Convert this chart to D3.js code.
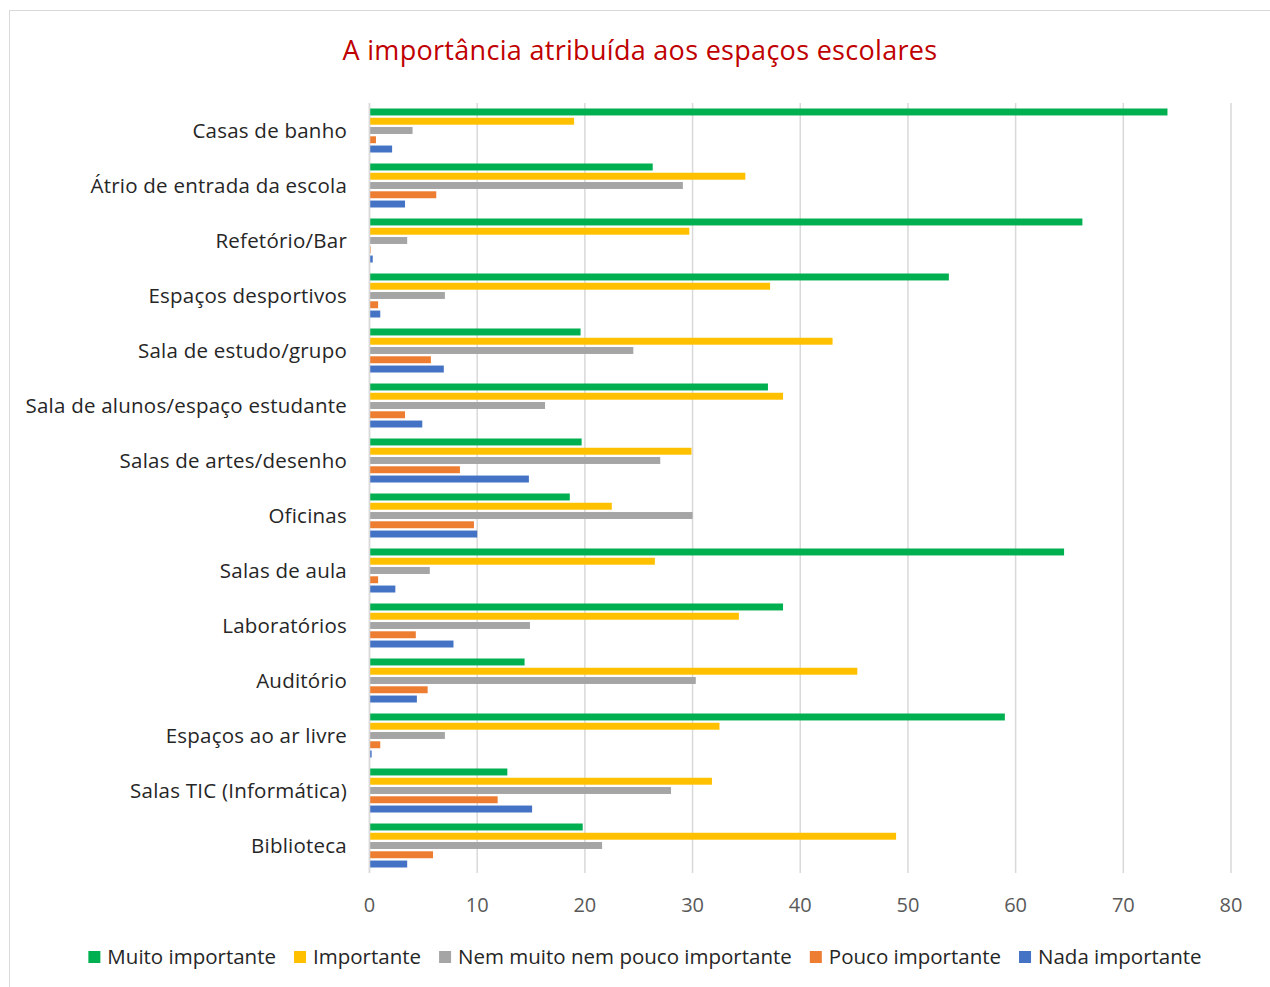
<!DOCTYPE html>
<html><head><meta charset="utf-8">
<script src="https://cdn.jsdelivr.net/npm/d3@7"></script>
<style>body{margin:0;background:#fff;} svg{display:block;}</style>
</head><body>
<svg id="chart" width="1270" height="987"></svg>
<script>
const categories = ["Casas de banho","Átrio de entrada da escola","Refetório/Bar","Espaços desportivos","Sala de estudo/grupo","Sala de alunos/espaço estudante","Salas de artes/desenho","Oficinas","Salas de aula","Laboratórios","Auditório","Espaços ao ar livre","Salas TIC (Informática)","Biblioteca"];
const seriesNames = ["Muito importante","Importante","Nem muito nem pouco importante","Pouco importante","Nada importante"];
const muitoImportante = [74.1,26.3,66.2,53.8,19.6,37.0,19.7,18.6,64.5,38.4,14.4,59.0,12.8,19.8];
const importante      = [19.0,34.9,29.7,37.2,43.0,38.4,29.9,22.5,26.5,34.3,45.3,32.5,31.8,48.9];
const nemMuitoNemPouco= [4.0,29.1,3.5,7.0,24.5,16.3,27.0,30.0,5.6,14.9,30.3,7.0,28.0,21.6];
const poucoImportante = [0.6,6.2,0.1,0.8,5.7,3.3,8.4,9.7,0.8,4.3,5.4,1.0,11.9,5.9];
const nadaImportante  = [2.1,3.3,0.3,1.0,6.9,4.9,14.8,10.0,2.4,7.8,4.4,0.2,15.1,3.5];
const xTicks = [0,10,20,30,40,50,60,70,80];
const colors = ["#00B050","#FFC000","#A5A5A5","#ED7D31","#4472C4"];
const title = "A importância atribuída aos espaços escolares";

const seriesValues = [muitoImportante,importante,nemMuitoNemPouco,poucoImportante,nadaImportante];
const svg = d3.select("#chart");
const font = "'Open Sans', 'Noto Sans', sans-serif";

// border
svg.append("rect").attr("x",9.5).attr("y",10.5).attr("width",1275).attr("height",990)
  .attr("fill","#fff").attr("stroke","#d9d9d9").attr("stroke-width",1);

const x = d3.scaleLinear().domain([0,80]).range([369.5,1231]);
const y0 = d3.scaleBand().domain(categories).range([103,873]).paddingInner(0.2).paddingOuter(0.1);
const y1 = d3.scaleBand().domain(seriesNames).range([0,y0.bandwidth()]).paddingInner(0.25);

// gridlines
svg.append("g").selectAll("line").data(xTicks).join("line")
  .attr("x1",d=>x(d)).attr("x2",d=>x(d)).attr("y1",103).attr("y2",873)
  .attr("stroke","#d9d9d9").attr("stroke-width",1.5);

// bars
const groups = svg.append("g").selectAll("g").data(categories).join("g")
  .attr("transform",c=>`translate(0,${y0(c)})`);
groups.selectAll("rect").data((c,i)=>seriesNames.map((s,j)=>({s,j,v:seriesValues[j][i]}))).join("rect")
  .attr("x",x(0)).attr("y",d=>y1(d.s)).attr("height",y1.bandwidth())
  .attr("width",d=>x(d.v)-x(0)).attr("fill",d=>colors[d.j]);

// category axis
svg.append("line").attr("x1",x(0)).attr("x2",x(0)).attr("y1",103).attr("y2",873)
  .attr("stroke","#d9d9d9").attr("stroke-width",1.5);
svg.append("g").selectAll("text").data(categories).join("text")
  .attr("x",347).attr("y",c=>y0(c)+y0.bandwidth()/2).attr("dy","0.35em")
  .attr("text-anchor","end").attr("font-family",font).attr("font-size",20.5)
  .attr("letter-spacing",0.23).attr("fill","#262626").text(c=>c);

// x tick labels
svg.append("g").selectAll("text").data(xTicks).join("text")
  .attr("x",d=>x(d)).attr("y",905).attr("dy","0.35em").attr("text-anchor","middle")
  .attr("font-family",font).attr("font-size",20).attr("fill","#595959").text(d=>d);

// title
svg.append("text").attr("x",640).attr("y",51).attr("dy","0.35em").attr("text-anchor","middle")
  .attr("font-family",font).attr("font-size",27).attr("letter-spacing",0.3)
  .attr("fill","#C00000").text(title);

// legend
const lg = svg.append("g");
let cx = 0;
seriesNames.forEach((s,j)=>{
  const g = lg.append("g");
  g.append("rect").attr("x",cx).attr("y",-6).attr("width",12).attr("height",12).attr("fill",colors[j]);
  const t = g.append("text").attr("x",cx+19).attr("y",0).attr("dy","0.35em")
    .attr("font-family",font).attr("font-size",20.5).attr("fill","#262626").text(s);
  cx += 19 + t.node().getComputedTextLength() + 18;
});
const totalW = cx - 18;
lg.attr("transform",`translate(${645-totalW/2},957)`);
</script>
</body></html>
